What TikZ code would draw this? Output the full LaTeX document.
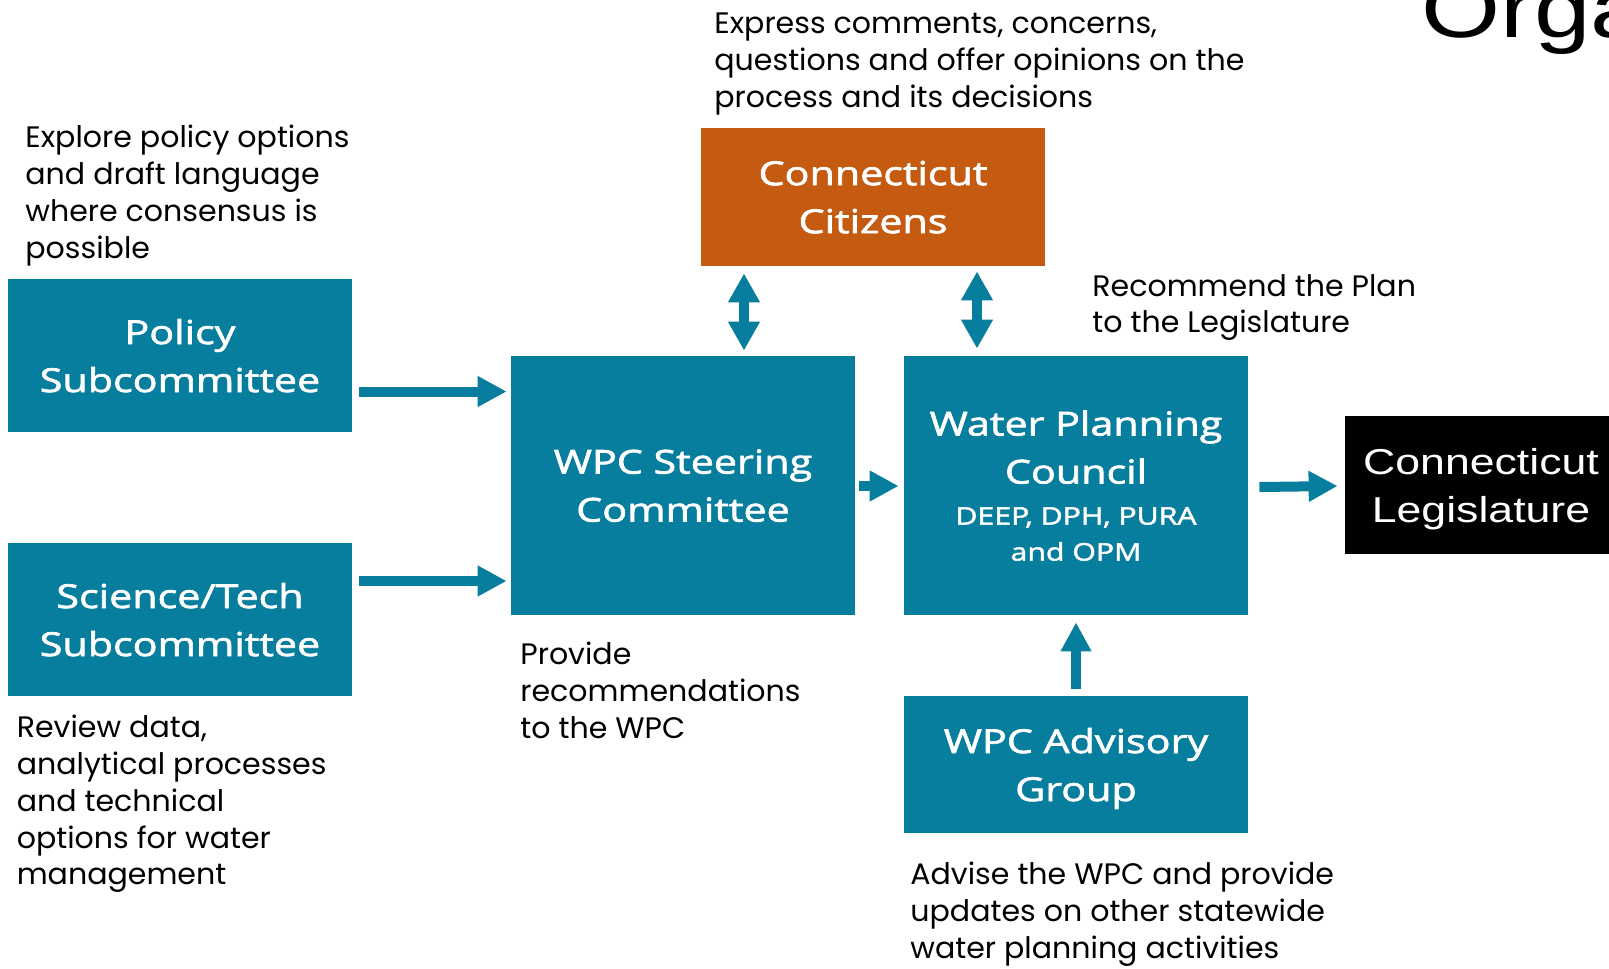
\documentclass[tikz,border=0pt]{standalone}
\usepackage{fontspec}
\setmainfont{Poppins}[FakeStretch=1.015]
\newfontfamily\boxfont{Open Sans}[FakeBold=2, FakeStretch=1.25]
\newfontfamily\headfont{Liberation Sans}[FakeStretch=1.24]
\usetikzlibrary{arrows.meta}

\definecolor{wpcteal}{RGB}{7,126,157}
\definecolor{ctorange}{RGB}{197,90,17}

\newcommand{\notesize}{\fontsize{14.8pt}{18.45pt}\selectfont}
\newcommand{\titlesize}{\boxfont\fontsize{16.5pt}{24pt}\selectfont}
\newcommand{\subsize}{\boxfont\fontsize{12.1pt}{18pt}\selectfont}

\tikzset{
	unit/.style={rectangle, fill=wpcteal, text=white, align=center, inner sep=0pt,
		text depth=0pt, minimum width=172pt, font=\titlesize},
	note/.style={anchor=base west, align=left, inner sep=0pt, font=\notesize},
	fat/.style={draw=wpcteal, line width=5pt, -{Triangle[length=14.5pt,width=14.5pt]}},
	twoway/.style={draw=wpcteal, line width=4.7pt,
		{Triangle[length=14.5pt,width=15pt]}-{Triangle[length=14.5pt,width=15pt]}},
}

\begin{document}
\begin{tikzpicture}[x=0.5pt, y=-0.5pt]
			%%%%% FRAME %%%%%
			\useasboundingbox (0,0) rectangle (1609,968);
			\clip (0,0) rectangle (1609,968);
			
			\node[anchor=base west, inner sep=0pt, font=\headfont\fontsize{41pt}{41pt}\selectfont] (heading) at (1421,38) {Orga};
			
			%%%%% BOXES %%%%%
			\node[unit, minimum height=76.5pt] (policy) at (180,355.5) {Policy\\Subcommittee};
			\node[unit, minimum height=76.5pt] (science) at (180,619.5) {Science/Tech\\Subcommittee};
			\node[unit, minimum height=129.5pt] (steering) at (683,485.5) {WPC Steering\\Committee};
			\node[unit, minimum height=69pt, fill=ctorange] (citizens) at (873,197) {Connecticut\\Citizens};
			\node[unit, minimum height=129.5pt] (council) at (1076,485.5)
				{Water Planning\\Council\\[-3.5pt]\subsize DEEP, DPH, PURA\\[-6pt]\subsize and OPM};
			\node[unit, minimum height=68.5pt] (advisory) at (1076,764.5) {WPC Advisory\\Group};
			\node[unit, minimum width=136pt, minimum height=69pt, fill=black,
				font=\headfont\fontsize{18pt}{24pt}\selectfont] (legislature) at (1481,485) {Connecticut\\Legislature};
			
			%%%%% NOTES %%%%% (anchored at the baseline of the last line)
			\node[note] (explore) at (25,258) {Explore policy options\\and draft language\\where consensus is\\possible};
			\node[note] (express) at (714,107.2) {Express comments, concerns,\\questions and offer opinions on the\\process and its decisions};
			\node[note] (recommend) at (1092,332.9) {Recommend the Plan\\to the Legislature};
			\node[note] (provide) at (520,738.2) {Provide\\recommendations\\to the WPC};
			\node[note] (review) at (16.4,884.9) {Review data,\\analytical processes\\and technical\\options for water\\management};
			\node[note] (advise) at (910,958.3) {Advise the WPC and provide\\updates on other statewide\\water planning activities};
			
			%%%%% ARROWS %%%%%
			\draw[fat] ([shift={(7,36)}]policy.east) -- ([shift={(-4,-94)}]steering.west);
			\draw[fat] ([shift={(7,-38.5)}]science.east) -- ([shift={(-4,95.5)}]steering.west);
			\draw[fat] ([shift={(4,0.5)}]steering.east) -- ([shift={(-5,0.5)}]council.west);
			\draw[fat] ([shift={(11,1.5)}]council.east) -- ([shift={(-7,1)}]legislature.west);
			\draw[fat] ([shift={(0,-7)}]advisory.north) -- ([shift={(0,7)}]council.south);
			\draw[twoway] ([shift={(-129,7)}]citizens.south) -- ([shift={(61,-5)}]steering.north);
			\draw[twoway] ([shift={(104,5)}]citizens.south) -- ([shift={(-99,-7)}]council.north);
			
\end{tikzpicture}
\end{document}
